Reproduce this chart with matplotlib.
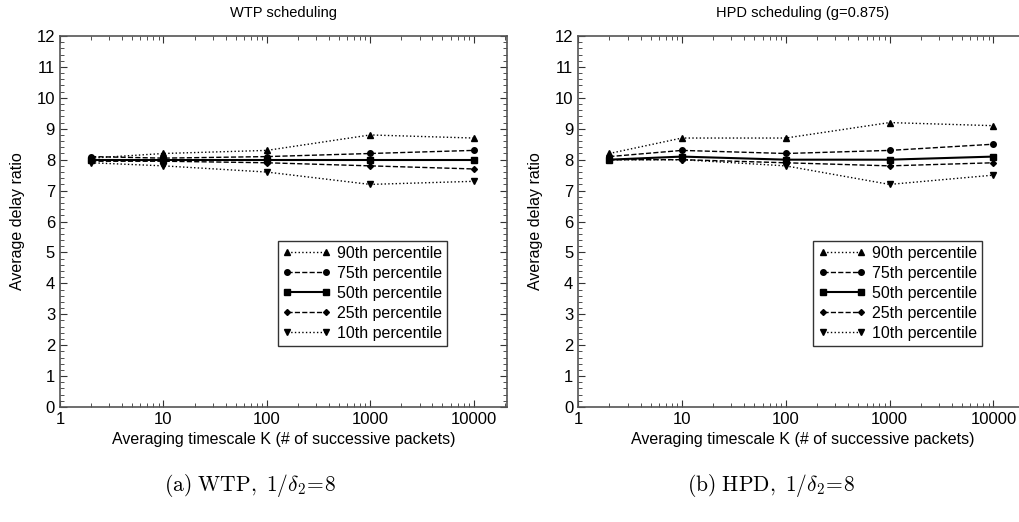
import matplotlib
matplotlib.use("Agg")
import matplotlib.pyplot as plt
from matplotlib.ticker import LogLocator, FixedLocator, MultipleLocator, NullFormatter

plt.rcParams['font.family'] = ['Liberation Sans', 'DejaVu Sans']
plt.rcParams['mathtext.fontset'] = 'cm'

# ---- data ----
K = [2, 10, 100, 1000, 10000]
labels = ["90th percentile", "75th percentile", "50th percentile",
          "25th percentile", "10th percentile"]

wtp_p90 = [8.05, 8.2, 8.3, 8.8, 8.7]
wtp_p75 = [8.1, 8.05, 8.1, 8.2, 8.3]
wtp_p50 = [8.0, 8.0, 8.0, 8.0, 8.0]
wtp_p25 = [7.95, 7.95, 7.9, 7.8, 7.7]
wtp_p10 = [7.9, 7.8, 7.6, 7.2, 7.3]

hpd_p90 = [8.2, 8.7, 8.7, 9.2, 9.1]
hpd_p75 = [8.1, 8.3, 8.2, 8.3, 8.5]
hpd_p50 = [8.0, 8.1, 8.0, 8.0, 8.1]
hpd_p25 = [8.0, 8.0, 7.9, 7.8, 7.9]
hpd_p10 = [8.0, 8.0, 7.8, 7.2, 7.5]

titles = ["WTP scheduling", "HPD scheduling (g=0.875)"]
captions = [r"$\mathrm{(a)\ WTP,}\ 1/\delta_2\!=\!8$",
            r"$\mathrm{(b)\ HPD,}\ 1/\delta_2\!=\!8$"]

styles = [(":", "^", 4), ("--", "o", 4), ("-", "s", 4), ("--", "D", 3), (":", "v", 4)]

fig = plt.figure(figsize=(10.2, 5.22), dpi=100)
ax1 = fig.add_axes([0.0588, 0.2203, 0.4382, 0.7107])
ax2 = fig.add_axes([0.5667, 0.2203, 0.4400, 0.7107])

panels = [(ax1, [wtp_p90, wtp_p75, wtp_p50, wtp_p25, wtp_p10]),
          (ax2, [hpd_p90, hpd_p75, hpd_p50, hpd_p25, hpd_p10])]

for i, (ax, series) in enumerate(panels):
    for vals, lab, (ls, mk, ms) in zip(series, labels, styles):
        lw = 1.5 if ls == "-" else 1.0
        ax.plot(K, vals, linestyle=ls, marker=mk, markersize=ms, color="black",
                linewidth=lw, label=lab)
    ax.set_xscale("log")
    ax.set_xlim(1, 21000)
    ax.set_ylim(0, 12)
    ax.xaxis.set_major_locator(FixedLocator([1, 10, 100, 1000, 10000]))
    ax.set_xticklabels(["1", "10", "100", "1000", "10000"])
    ax.xaxis.set_minor_locator(LogLocator(base=10, subs=range(2, 10), numticks=20))
    ax.xaxis.set_minor_formatter(NullFormatter())
    ax.yaxis.set_major_locator(MultipleLocator(1))
    ax.yaxis.set_minor_locator(MultipleLocator(0.2))
    ax.tick_params(which="both", direction="in", top=True, right=True,
                   labelsize=12, color="#333333")
    ax.tick_params(which="major", length=5)
    ax.tick_params(which="minor", length=3)
    for sp in ax.spines.values():
        sp.set_color("#555555")
        sp.set_linewidth(1.2)
    ax.set_xlabel("Averaging timescale K (# of successive packets)", fontsize=11.5, labelpad=4)
    ax.set_ylabel("Average delay ratio", fontsize=11.5, labelpad=8)
    ax.set_title(titles[i], fontsize=10.5, pad=14)
    ax.legend(loc="lower right", bbox_to_anchor=(0.865 if i == 0 else 0.9, 0.165),
              numpoints=2, handlelength=3.0, fontsize=11.5, frameon=True,
              fancybox=False, edgecolor="black", borderpad=0.3,
              labelspacing=0.32, handletextpad=0.4, borderaxespad=0)

fig.text(0.245, 0.06, captions[0], fontsize=15.5, ha="center")
fig.text(0.756, 0.06, captions[1], fontsize=15.5, ha="center")

fig.savefig("out.png", dpi=100)
